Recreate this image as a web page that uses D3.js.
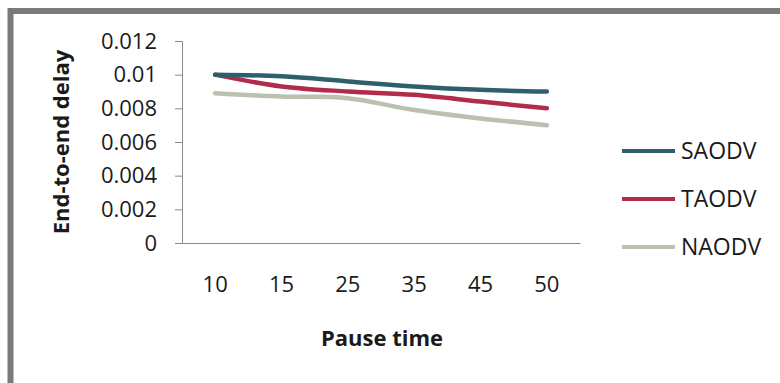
<!DOCTYPE html>
<html>
<head>
<meta charset="utf-8">
<script src="https://cdn.jsdelivr.net/npm/d3@7"></script>
<style>
  html, body { margin: 0; padding: 0; background: #fff; }
  svg { display: block; }
  text { font-family: "Open Sans", sans-serif; fill: #1a1a1a; }
</style>
</head>
<body>
<svg id="chart" width="780" height="383"></svg>
<script>
// Pause time categories and end-to-end delay per protocol
const pauseTimes = ["10", "15", "25", "35", "45", "50"];
const saodv = [0.0100, 0.0099, 0.0096, 0.0093, 0.0091, 0.0090];
const taodv = [0.0100, 0.0093, 0.0090, 0.0088, 0.0084, 0.0080];
const naodv = [0.0089, 0.0087, 0.0086, 0.0079, 0.0074, 0.0070];
const yTicks = [0, 0.002, 0.004, 0.006, 0.008, 0.01, 0.012];
const seriesNames = ["SAODV", "TAODV", "NAODV"];
const seriesColors = ["#2d5f6d", "#b02c4a", "#b9c1b1"];

const series = [saodv, taodv, naodv].map((values, i) => ({
  name: seriesNames[i], color: seriesColors[i], values
}));

const svg = d3.select("#chart");

// Outer chart frame
svg.append("rect")
  .attr("x", 10.5).attr("y", 11)
  .attr("width", 800).attr("height", 400)
  .attr("fill", "none")
  .attr("stroke", "#7a7a7a")
  .attr("stroke-width", 6);

const plot = { left: 182, right: 580, top: 41, bottom: 243 };

const x = d3.scaleBand().domain(pauseTimes).range([plot.left, plot.right]).padding(0);
const y = d3.scaleLinear().domain([0, 0.012]).range([plot.bottom, plot.top]);
const cx = d => x(d) + x.bandwidth() / 2;

// Y axis
const yAxis = svg.append("g")
  .attr("transform", `translate(${plot.left},0)`)
  .call(d3.axisLeft(y).tickValues(yTicks).tickSize(7).tickPadding(18)
    .tickFormat(d => d === 0 ? "0" : String(+d.toFixed(3))));
yAxis.select(".domain").attr("stroke", "#8a8a8a");
yAxis.selectAll(".tick line").attr("stroke", "#8a8a8a");
yAxis.selectAll("text")
  .attr("font-size", 22).attr("fill", "#1a1a1a")
  .style("font-family", "'Open Sans', sans-serif");

// X axis
const xAxis = svg.append("g")
  .attr("transform", `translate(0,${plot.bottom})`)
  .call(d3.axisBottom(x).tickSize(0).tickPadding(33));
xAxis.select(".domain").attr("stroke", "#8a8a8a");
xAxis.selectAll("text")
  .attr("font-size", 22).attr("fill", "#1a1a1a")
  .style("font-family", "'Open Sans', sans-serif");

// Axis titles
svg.append("text")
  .attr("x", 382).attr("y", 346)
  .attr("text-anchor", "middle")
  .attr("font-size", 22).attr("font-weight", "bold")
  .text("Pause time");

svg.append("text")
  .attr("transform", `translate(69,${(plot.top + plot.bottom) / 2}) rotate(-90)`)
  .attr("text-anchor", "middle")
  .attr("font-size", 22).attr("font-weight", "bold")
  .text("End-to-end delay");

// Smoothed lines
const line = d3.line()
  .x((d, i) => cx(pauseTimes[i]))
  .y(d => y(d))
  .curve(d3.curveCatmullRom.alpha(0.5));

svg.append("g").selectAll("path")
  .data(series.slice().reverse())
  .join("path")
  .attr("d", d => line(d.values))
  .attr("fill", "none")
  .attr("stroke", d => d.color)
  .attr("stroke-width", 4.5)
  .attr("stroke-linecap", "round");

// Legend
const legend = svg.append("g").selectAll("g")
  .data(series)
  .join("g")
  .attr("transform", (d, i) => `translate(622,${151 + i * 48})`);
legend.append("line")
  .attr("x1", 0).attr("x2", 53)
  .attr("stroke", d => d.color)
  .attr("stroke-width", 4);
legend.append("text")
  .attr("x", 59).attr("y", 8)
  .attr("font-size", 23)
  .text(d => d.name);
</script>
</body>
</html>
